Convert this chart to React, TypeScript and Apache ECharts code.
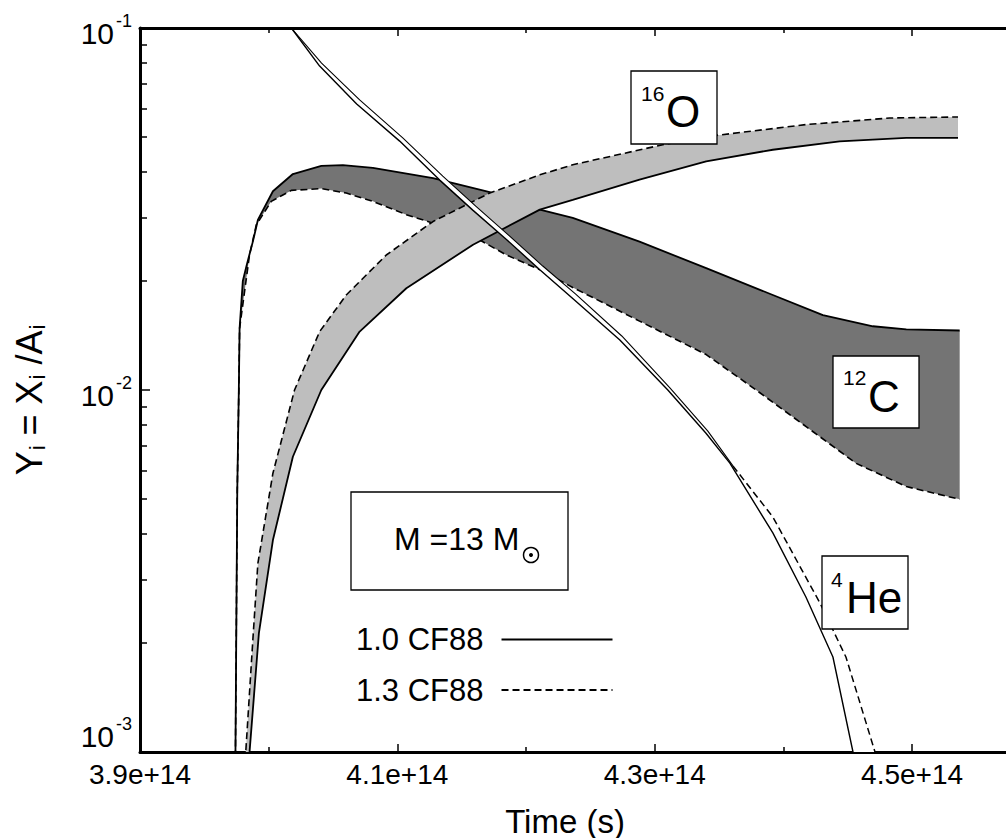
import React, { useEffect, useRef } from "react";
import * as echarts from "echarts";

type Pt = [number, number];

const FONT = '"Liberation Sans", Arial, Helvetica, sans-serif';

// Time axis (seconds); the frame is cut at the right edge of the page
const T_MIN = 3.9e14;
const T_MAX = 4.573e14;
const T_LABELED = [3.9e14, 4.1e14, 4.3e14, 4.5e14];
const T_UNLABELED = [4.0e14, 4.2e14, 4.4e14];

// Abundance axis (log)
const Y_MIN = 1e-3;
const Y_MAX = 1e-1;
const Y_MINOR = [
  0.002, 0.003, 0.004, 0.005, 0.006, 0.007, 0.008, 0.009,
  0.02, 0.03, 0.04, 0.05, 0.06, 0.07, 0.08, 0.09,
];

const RATE_LABELS = ["1.0 CF88", "1.3 CF88"];

// Abundance tracks: [time in 1e14 s, Y_i]
const C12_RATE10: Pt[] = [
  [3.9741, 0.0009], [3.9756, 0.0053], [3.9768, 0.01], [3.9774, 0.0148],
  [3.9799, 0.02], [3.983, 0.0222], [3.9877, 0.0257], [3.9916, 0.0295],
  [4.0033, 0.0354], [4.0188, 0.0395], [4.0409, 0.0416], [4.0577, 0.0418],
  [4.081, 0.0411], [4.1277, 0.0385], [4.1718, 0.0352], [4.2107, 0.0315],
  [4.2363, 0.0299], [4.2882, 0.0257], [4.34, 0.0217], [4.3918, 0.0183],
  [4.4307, 0.0161], [4.4696, 0.015], [4.4955, 0.0147], [4.537, 0.0146],
];
const C12_RATE13: Pt[] = [
  [3.9741, 0.0009], [3.9756, 0.0053], [3.9768, 0.01], [3.9774, 0.0148],
  [3.9851, 0.0236], [3.9904, 0.0286], [4.002, 0.0332], [4.0176, 0.0356],
  [4.0409, 0.036], [4.0603, 0.035], [4.081, 0.0332], [4.107, 0.0305],
  [4.1277, 0.0289], [4.1588, 0.0266], [4.1848, 0.0236], [4.2107, 0.0215],
  [4.2363, 0.0192], [4.2882, 0.0155], [4.34, 0.01253], [4.3788, 0.01],
  [4.4177, 0.00792], [4.4566, 0.00627], [4.4955, 0.00541], [4.537, 0.00499],
];
const O16_RATE10: Pt[] = [
  [3.9839, 0.00088], [3.9924, 0.00213], [4.0033, 0.00385], [4.0188, 0.00654],
  [4.0409, 0.01], [4.0707, 0.0145], [4.107, 0.0191], [4.1588, 0.0252],
  [4.2107, 0.0315], [4.2363, 0.0335], [4.2882, 0.0381], [4.34, 0.0428],
  [4.3918, 0.0461], [4.4437, 0.0486], [4.4955, 0.0497], [4.5357, 0.0497],
];
const O16_RATE13: Pt[] = [
  [3.9812, 0.00088], [3.9877, 0.00204], [3.9916, 0.00332], [4.0033, 0.00589],
  [4.0201, 0.01], [4.0396, 0.0145], [4.0603, 0.0183], [4.0914, 0.0236],
  [4.1277, 0.0292], [4.1718, 0.035], [4.2107, 0.0393], [4.2363, 0.0419],
  [4.3063, 0.0476], [4.3477, 0.0505], [4.4177, 0.0541], [4.4826, 0.0564],
  [4.5357, 0.0568],
];
const HE4_RATE10: Pt[] = [
  [4.0085, 0.11], [4.0176, 0.1], [4.0396, 0.0785], [4.0684, 0.0617],
  [4.1018, 0.0487], [4.1329, 0.038], [4.1586, 0.0314], [4.185, 0.026],
  [4.2107, 0.0215], [4.2363, 0.0179], [4.2729, 0.01374], [4.3102, 0.01],
  [4.3397, 0.00761], [4.3584, 0.00628], [4.3918, 0.00403], [4.4175, 0.00268],
  [4.4385, 0.00183], [4.4541, 0.001], [4.4572, 0.00088],
];
const HE4_RATE13: Pt[] = [
  [4.0085, 0.11], [4.0176, 0.1], [4.0411, 0.08], [4.0707, 0.0633],
  [4.1042, 0.0497], [4.1353, 0.039], [4.1609, 0.0322], [4.1873, 0.0266],
  [4.213, 0.022], [4.2386, 0.0184], [4.2744, 0.0141], [4.3118, 0.01013],
  [4.3413, 0.0077], [4.3608, 0.00617], [4.3918, 0.00446], [4.4284, 0.00258],
  [4.4486, 0.00183], [4.4712, 0.001], [4.4751, 0.00088],
];
// The 1.3 CF88 helium track shows its dash pattern only past this time (1e14 s)
const HE4_DASH_FROM = 4.3608;

const toSeconds = (pts: Pt[]) => pts.map(([t, y]) => [t * 1e14, y]);

const DASH = [7, 4];

const bandSeries = (upper: Pt[], lower: Pt[], fill: string, z: number) => {
  const ring = toSeconds(upper.concat(lower.slice().reverse()));
  return {
    type: "custom",
    z,
    silent: true,
    clip: true,
    data: ring,
    encode: { x: 0, y: 1 },
    renderItem: (params: any, api: any) => {
      if (params.dataIndex !== 0) return null;
      const cs = params.coordSys;
      return {
        type: "polygon",
        shape: { points: ring.map((p) => api.coord(p)) },
        style: { fill, stroke: null },
        clipPath: {
          type: "rect",
          shape: { x: cs.x, y: cs.y, width: cs.width, height: cs.height },
        },
      };
    },
  };
};

const lineSeries = (
  name: string,
  pts: Pt[],
  z: number,
  dashed: boolean,
  width: number
) => ({
  type: "line",
  name,
  z,
  silent: true,
  clip: true,
  symbol: "none",
  showSymbol: false,
  data: toSeconds(pts),
  itemStyle: { color: "#000" },
  lineStyle: { color: "#000", width, type: dashed ? DASH : "solid" },
});

const tickStyle = { color: "#000", width: 1.5 };

const xBase = {
  type: "value",
  min: T_MIN,
  max: T_MAX,
  interval: 1e13,
  splitLine: { show: false },
};

const yBase = {
  type: "log",
  logBase: 10,
  min: Y_MIN,
  max: Y_MAX,
  position: "left",
  splitLine: { show: false },
  minorTick: { show: false },
};

const labelBox = (
  x: number,
  y: number,
  w: number,
  h: number,
  mass: string,
  massX: number,
  massY: number,
  sym: string,
  symX: number,
  symY: number
) => ({
  type: "group",
  z: 100,
  children: [
    {
      type: "rect",
      z: 100,
      shape: { x, y, width: w, height: h },
      style: { fill: "#fff", stroke: "#000", lineWidth: 1.3 },
    },
    {
      type: "text",
      z: 101,
      x: massX,
      y: massY,
      style: {
        text: mass,
        fill: "#000",
        font: `21px ${FONT}`,
        textAlign: "left",
        textVerticalAlign: "middle",
      },
    },
    {
      type: "text",
      z: 101,
      x: symX,
      y: symY,
      style: {
        text: sym,
        fill: "#000",
        font: `44px ${FONT}`,
        textAlign: "left",
        textVerticalAlign: "middle",
      },
    },
  ],
});

// Decade labels: "10" with a raised exponent; the lowest one sits above the time labels
const decadeLabel = (v: number) => {
  const e = Math.round(Math.log10(v));
  return e <= -3 ? `{bl|10}{sl|${e}}` : `{b|10}{s|${e}}`;
};
const decadeRich = {
  b: { fontSize: 30, lineHeight: 30, fontFamily: FONT, color: "#000", padding: [10, 0, 0, 0] },
  s: { fontSize: 18, lineHeight: 18, fontFamily: FONT, color: "#000", padding: [0, 0, 14, 2] },
  bl: { fontSize: 30, lineHeight: 30, fontFamily: FONT, color: "#000", padding: [0, 0, 32, 0] },
  sl: { fontSize: 18, lineHeight: 18, fontFamily: FONT, color: "#000", padding: [0, 0, 56, 2] },
};

export default function App() {
  const ref = useRef<HTMLDivElement>(null);

  useEffect(() => {
    document.body.style.margin = "0";
    if (!ref.current) return;
    const chart = echarts.init(ref.current, undefined, { renderer: "svg" });

    const he13Solid = HE4_RATE13.filter(([t]) => t <= HE4_DASH_FROM);
    const he13Dashed = HE4_RATE13.filter(([t]) => t >= HE4_DASH_FROM);

    const option: any = {
      animation: false,
      backgroundColor: "#fff",
      textStyle: { fontFamily: FONT, color: "#000" },
      grid: { left: 140, top: 28, bottom: 86, right: 0, containLabel: false },
      legend: {
        data: RATE_LABELS,
        orient: "vertical",
        align: "right",
        left: 351,
        top: 619,
        itemWidth: 111,
        itemHeight: 32,
        itemGap: 19.5,
        selectedMode: false,
        itemStyle: { color: "rgba(0,0,0,0)", borderWidth: 0, opacity: 0 },
        textStyle: {
          fontSize: 31,
          fontFamily: FONT,
          color: "#000",
          padding: [0, 13, 0, 0],
        },
      },
      xAxis: [
        {
          ...xBase,
          position: "bottom",
          axisLine: { show: true, lineStyle: { color: "#000", width: 3 } },
          axisTick: {
            show: true,
            inside: true,
            length: 8,
            customValues: T_LABELED,
            lineStyle: tickStyle,
          },
          axisLabel: {
            show: true,
            customValues: T_LABELED,
            formatter: (v: number) => v.toExponential(1),
            color: "#000",
            fontSize: 28,
            fontFamily: FONT,
            margin: 8,
          },
        },
        {
          ...xBase,
          position: "bottom",
          axisLine: { show: false },
          axisTick: {
            show: true,
            inside: true,
            length: 5,
            customValues: T_UNLABELED,
            lineStyle: tickStyle,
          },
          axisLabel: { show: false },
        },
        {
          ...xBase,
          position: "top",
          axisLine: { show: true, lineStyle: { color: "#000", width: 3 } },
          axisTick: {
            show: true,
            inside: true,
            length: 8,
            customValues: T_LABELED,
            lineStyle: tickStyle,
          },
          axisLabel: { show: false },
        },
        {
          ...xBase,
          position: "top",
          axisLine: { show: false },
          axisTick: {
            show: true,
            inside: true,
            length: 5,
            customValues: T_UNLABELED,
            lineStyle: tickStyle,
          },
          axisLabel: { show: false },
        },
      ],
      yAxis: [
        {
          ...yBase,
          axisLine: { show: true, lineStyle: { color: "#000", width: 3 } },
          axisTick: { show: true, inside: true, length: 10, lineStyle: tickStyle },
          axisLabel: {
            show: true,
            margin: 8,
            formatter: decadeLabel,
            rich: decadeRich,
          },
        },
        {
          ...yBase,
          axisLine: { show: false },
          axisTick: {
            show: true,
            inside: true,
            length: 7,
            customValues: Y_MINOR,
            lineStyle: tickStyle,
          },
          axisLabel: { show: false },
        },
      ],
      series: [
        bandSeries(C12_RATE10, C12_RATE13, "#747474", 1),
        lineSeries(RATE_LABELS[0], C12_RATE10, 2, false, 1.8),
        lineSeries(RATE_LABELS[1], C12_RATE13, 2, true, 1.6),
        bandSeries(O16_RATE13, O16_RATE10, "#bebebe", 3),
        lineSeries(RATE_LABELS[0], O16_RATE10, 4, false, 1.8),
        lineSeries(RATE_LABELS[1], O16_RATE13, 4, true, 1.6),
        bandSeries(HE4_RATE13, HE4_RATE10, "#ffffff", 5),
        lineSeries(RATE_LABELS[0], HE4_RATE10, 6, false, 1.4),
        lineSeries("1.3 CF88 (4He, early)", he13Solid, 6, false, 1.1),
        lineSeries(RATE_LABELS[1], he13Dashed, 6, true, 1.5),
      ],
      graphic: [
        // y-axis title, rotated
        {
          type: "text",
          z: 100,
          x: 29,
          y: 400,
          rotation: Math.PI / 2,
          style: {
            text: "{m|Y}{s|i}{m| = X}{s|i}{m| /A}{s|i}",
            textAlign: "center",
            textVerticalAlign: "middle",
            rich: {
              m: { fontSize: 36, lineHeight: 36, fontFamily: FONT, fill: "#000" },
              s: {
                fontSize: 22,
                lineHeight: 22,
                fontFamily: FONT,
                fill: "#000",
                padding: [16, 0, 0, 1],
              },
            },
          },
        },
        // x-axis title
        {
          type: "text",
          z: 100,
          x: 565,
          y: 821,
          style: {
            text: "Time (s)",
            fill: "#000",
            font: `33px ${FONT}`,
            textAlign: "center",
            textVerticalAlign: "middle",
          },
        },
        labelBox(631, 71, 86, 73, "16", 641, 93, "O", 666, 111),
        labelBox(833, 356, 86, 72, "12", 843, 377, "C", 868, 396),
        labelBox(822, 556, 86, 73, "4", 831, 579, "He", 846, 597),
        // stellar mass box
        {
          type: "group",
          z: 100,
          children: [
            {
              type: "rect",
              z: 100,
              shape: { x: 351, y: 492, width: 217, height: 98 },
              style: { fill: "#fff", stroke: "#000", lineWidth: 1.3 },
            },
            {
              type: "text",
              z: 101,
              x: 394,
              y: 539,
              style: {
                text: "M =13 M",
                fill: "#000",
                font: `32px ${FONT}`,
                textAlign: "left",
                textVerticalAlign: "middle",
              },
            },
            {
              type: "circle",
              z: 101,
              shape: { cx: 531, cy: 555, r: 7.5 },
              style: { fill: "none", stroke: "#000", lineWidth: 1.5 },
            },
            {
              type: "circle",
              z: 101,
              shape: { cx: 531, cy: 555, r: 2 },
              style: { fill: "#000" },
            },
          ],
        },
      ],
    };

    chart.setOption(option);
    return () => {
      chart.dispose();
    };
  }, []);

  return <div ref={ref} style={{ width: 1006, height: 838 }} />;
}
